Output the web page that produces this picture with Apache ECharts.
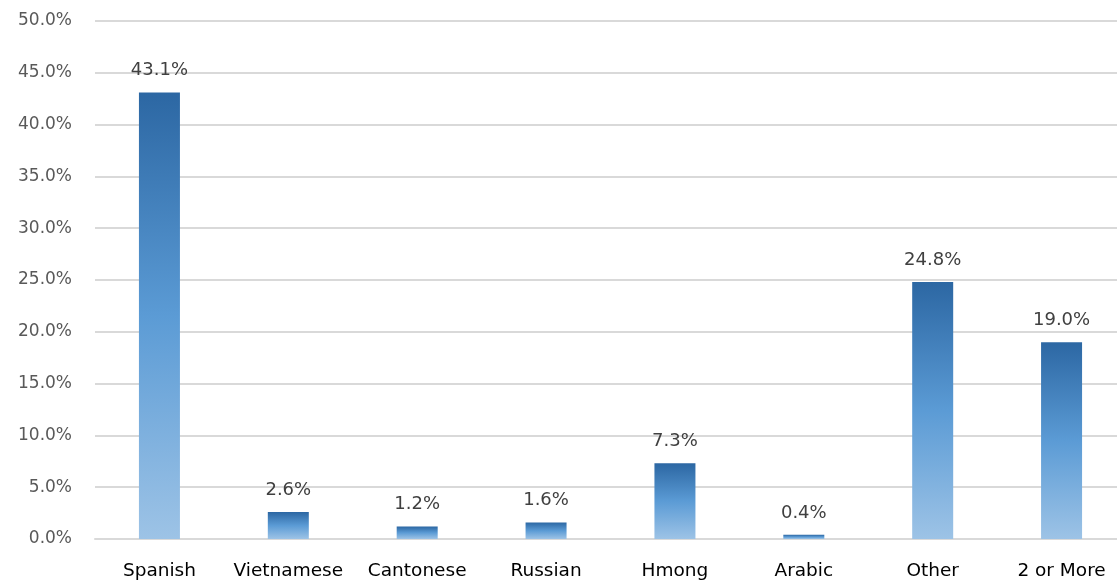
<!DOCTYPE html>
<html>
<head>
<meta charset="utf-8">
<style>
  html, body { margin: 0; padding: 0; background: #ffffff; overflow: hidden; width: 1117px; height: 584px; }
  /* the plot runs a little past the right edge of the window */
  #chart { width: 1126px; height: 584px; }
</style>
<script src="https://cdn.jsdelivr.net/npm/echarts@6/dist/echarts.min.js"></script>
</head>
<body>
<div id="chart"></div>
<script>
// Languages spoken and their share (%)
const categories = ['Spanish', 'Vietnamese', 'Cantonese', 'Russian', 'Hmong', 'Arabic', 'Other', '2 or More'];
const shares = [43.1, 2.6, 1.2, 1.6, 7.3, 0.4, 24.8, 19.0];
const yTicks = { min: 0, max: 50, interval: 5 };

const fontFamily = '"DejaVu Sans", sans-serif';

const chart = echarts.init(document.getElementById('chart'), null, { renderer: 'canvas' });

chart.setOption({
  animation: false,
  backgroundColor: '#ffffff',
  grid: { left: 95, top: 21, right: 0, bottom: 45, containLabel: false },
  xAxis: {
    type: 'category',
    data: categories,
    axisLine: { show: true, lineStyle: { color: '#d9d9d9', width: 2 } },
    axisTick: { show: false },
    axisLabel: { color: '#000000', fontSize: 18.5, fontFamily: fontFamily, margin: 23, interval: 0 }
  },
  yAxis: {
    type: 'value',
    min: yTicks.min,
    max: yTicks.max,
    interval: yTicks.interval,
    axisLine: { show: false },
    axisTick: { show: false },
    splitLine: { lineStyle: { color: '#d9d9d9', width: 2 } },
    axisLabel: {
      color: '#595959', fontSize: 17, fontFamily: fontFamily, margin: 23,
      formatter: v => v.toFixed(1) + '%'
    }
  },
  series: [{
    type: 'bar',
    data: shares,
    barWidth: 41,
    itemStyle: {
      color: new echarts.graphic.LinearGradient(0, 0, 0, 1, [
        { offset: 0, color: '#2c67a3' },
        { offset: 0.5, color: '#5b9bd5' },
        { offset: 1, color: '#9dc3e6' }
      ])
    },
    label: {
      show: true,
      position: 'top',
      distance: 13,
      color: '#404040',
      fontSize: 18,
      fontFamily: fontFamily,
      formatter: p => p.value.toFixed(1) + '%'
    }
  }]
});
</script>
</body>
</html>
